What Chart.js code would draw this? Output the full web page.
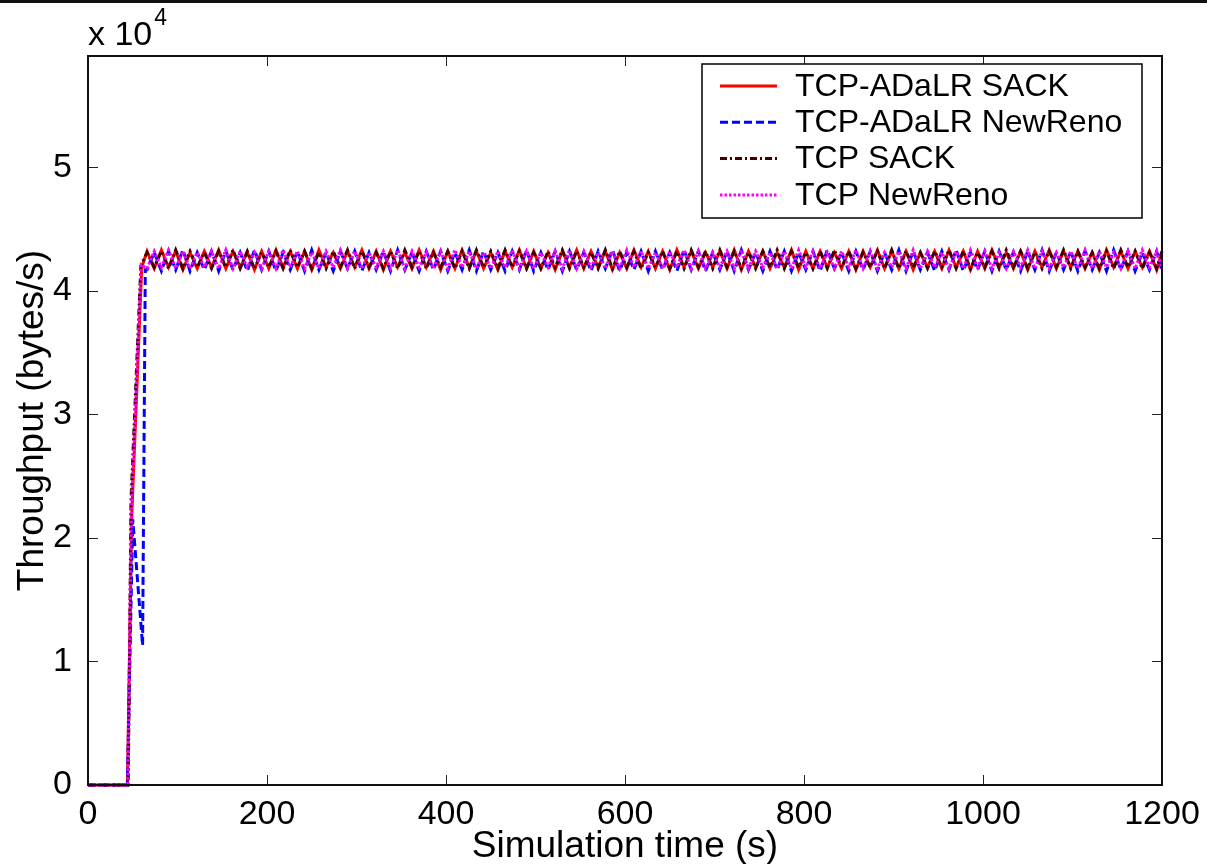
<!DOCTYPE html>
<html>
<head>
<meta charset="utf-8">
<title>Throughput vs simulation time</title>
<script src="https://cdn.jsdelivr.net/npm/chart.js@4.4.0/dist/chart.umd.min.js"></script>
<style>
  html, body { margin: 0; padding: 0; background: #fff; }
  #wrap { position: relative; width: 1207px; height: 864px; overflow: hidden; }
  #topRule { position: absolute; left: 0; top: 0; width: 1207px; height: 3px; background: #111; }
  #chart { position: absolute; left: 0; top: 0; }
</style>
</head>
<body>
<div id="wrap">
  <canvas id="chart" width="1207" height="864"></canvas>
  <div id="topRule"></div>
</div>
<script>
// Series names and axis ticks (throughput values are in units of 10^4 bytes/s)
const seriesNames = ['TCP-ADaLR SACK', 'TCP-ADaLR NewReno', 'TCP SACK', 'TCP NewReno'];
const xTickValues = [0, 200, 400, 600, 800, 1000, 1200];
const yTickValues = [0, 1, 2, 3, 4, 5];

// Start-up part of each curve (time in s, throughput x 10^4)
const redStartTime = [0, 44, 49, 60];
const redStartRate = [0, 0, 2.2, 4.19];
const blueStartTime = [0, 44, 50, 61, 64];
const blueStartRate = [0, 0, 2.15, 1.13, 4.17];
const brownStartTime = [0, 45, 48, 59];
const brownStartRate = [0, 0, 2.3, 4.2];
const magentaStartTime = [0, 44.5, 48.5, 59.5];
const magentaStartRate = [0, 0, 2.25, 4.21];

// Steady-state sampling times (shared by all four curves)
const steadyTime = [
  66,74,82,90,98,106,114,122,130,138,
  146,154,162,170,178,186,194,202,210,218,
  226,234,242,250,258,266,274,282,290,298,
  306,314,322,330,338,346,354,362,370,378,
  386,394,402,410,418,426,434,442,450,458,
  466,474,482,490,498,506,514,522,530,538,
  546,554,562,570,578,586,594,602,610,618,
  626,634,642,650,658,666,674,682,690,698,
  706,714,722,730,738,746,754,762,770,778,
  786,794,802,810,818,826,834,842,850,858,
  866,874,882,890,898,906,914,922,930,938,
  946,954,962,970,978,986,994,1002,1010,1018,
  1026,1034,1042,1050,1058,1066,1074,1082,1090,1098,
  1106,1114,1122,1130,1138,1146,1154,1162,1170,1178,
  1186,1194,1200
];

const redSteadyRate = [
  4.32,4.18,4.33,4.19,4.32,4.17,4.31,4.18,4.32,4.19,
  4.33,4.18,4.32,4.19,4.31,4.17,4.32,4.18,4.33,4.19,
  4.32,4.18,4.32,4.17,4.33,4.19,4.31,4.18,4.32,4.19,
  4.33,4.18,4.32,4.17,4.32,4.19,4.31,4.18,4.33,4.19,
  4.32,4.17,4.32,4.18,4.33,4.19,4.32,4.18,4.31,4.17,
  4.32,4.19,4.33,4.18,4.32,4.18,4.31,4.17,4.32,4.19,
  4.33,4.18,4.32,4.19,4.32,4.17,4.31,4.18,4.33,4.19,
  4.32,4.18,4.32,4.17,4.33,4.19,4.32,4.18,4.31,4.19,
  4.32,4.18,4.33,4.17,4.32,4.19,4.32,4.18,4.31,4.19,
  4.33,4.17,4.32,4.18,4.32,4.19,4.31,4.18,4.32,4.17,
  4.32,4.19,4.33,4.18,4.32,4.18,4.32,4.17,4.31,4.19,
  4.32,4.18,4.33,4.19,4.32,4.17,4.32,4.18,4.33,4.19,
  4.31,4.18,4.32,4.17,4.32,4.19,4.33,4.18,4.32,4.19,
  4.32,4.18,4.31,4.17,4.33,4.19,4.32,4.18,4.32,4.19,
  4.32,4.17,4.32
];

const blueSteadyRate = [
  4.17,4.31,4.16,4.32,4.17,4.33,4.16,4.31,4.17,4.32,
  4.16,4.32,4.17,4.31,4.16,4.33,4.17,4.32,4.16,4.31,
  4.17,4.32,4.16,4.33,4.17,4.31,4.16,4.32,4.18,4.32,
  4.16,4.31,4.17,4.32,4.16,4.33,4.17,4.31,4.16,4.32,
  4.17,4.32,4.16,4.31,4.17,4.33,4.16,4.32,4.17,4.31,
  4.16,4.32,4.17,4.33,4.16,4.31,4.17,4.32,4.16,4.32,
  4.17,4.31,4.16,4.32,4.18,4.33,4.16,4.31,4.17,4.32,
  4.16,4.32,4.17,4.31,4.16,4.33,4.17,4.32,4.16,4.31,
  4.17,4.32,4.16,4.33,4.17,4.31,4.16,4.32,4.17,4.32,
  4.16,4.31,4.17,4.32,4.16,4.33,4.18,4.31,4.16,4.32,
  4.17,4.32,4.16,4.31,4.17,4.33,4.16,4.32,4.17,4.31,
  4.16,4.32,4.17,4.33,4.16,4.31,4.17,4.32,4.16,4.32,
  4.17,4.31,4.16,4.32,4.17,4.33,4.16,4.31,4.17,4.32,
  4.16,4.32,4.17,4.31,4.16,4.33,4.17,4.32,4.16,4.31,
  4.17,4.32,4.16
];

const brownSteadyRate = [
  4.31,4.19,4.32,4.18,4.33,4.18,4.32,4.19,4.31,4.18,
  4.32,4.19,4.33,4.18,4.32,4.18,4.31,4.19,4.32,4.18,
  4.33,4.19,4.32,4.18,4.31,4.18,4.32,4.19,4.33,4.18,
  4.32,4.19,4.31,4.18,4.32,4.18,4.33,4.19,4.32,4.18,
  4.31,4.19,4.32,4.18,4.32,4.18,4.33,4.19,4.32,4.18,
  4.33,4.19,4.32,4.18,4.31,4.18,4.32,4.19,4.33,4.18,
  4.32,4.19,4.31,4.18,4.33,4.18,4.32,4.19,4.32,4.18,
  4.31,4.19,4.32,4.18,4.32,4.18,4.33,4.19,4.32,4.18,
  4.33,4.19,4.32,4.18,4.31,4.18,4.32,4.19,4.33,4.18,
  4.32,4.19,4.31,4.18,4.32,4.18,4.33,4.19,4.32,4.18,
  4.31,4.19,4.32,4.18,4.33,4.18,4.32,4.19,4.31,4.18,
  4.32,4.19,4.33,4.18,4.32,4.18,4.31,4.19,4.32,4.18,
  4.33,4.19,4.32,4.18,4.31,4.18,4.32,4.19,4.33,4.18,
  4.32,4.19,4.31,4.18,4.32,4.18,4.33,4.19,4.32,4.18,
  4.31,4.18,4.32
];

const magentaSteadyRate = [
  4.18,4.32,4.19,4.33,4.18,4.32,4.18,4.31,4.19,4.32,
  4.18,4.33,4.18,4.32,4.19,4.31,4.18,4.32,4.18,4.33,
  4.19,4.32,4.18,4.31,4.18,4.32,4.19,4.33,4.18,4.32,
  4.18,4.31,4.19,4.32,4.18,4.33,4.18,4.32,4.19,4.31,
  4.18,4.32,4.18,4.33,4.19,4.32,4.18,4.31,4.18,4.32,
  4.19,4.33,4.18,4.32,4.18,4.31,4.19,4.32,4.18,4.33,
  4.18,4.32,4.19,4.31,4.18,4.32,4.18,4.33,4.19,4.32,
  4.18,4.31,4.18,4.32,4.19,4.33,4.18,4.32,4.18,4.31,
  4.19,4.32,4.18,4.33,4.18,4.32,4.19,4.31,4.18,4.32,
  4.18,4.33,4.19,4.32,4.18,4.31,4.18,4.32,4.19,4.33,
  4.18,4.32,4.18,4.31,4.19,4.32,4.18,4.33,4.18,4.32,
  4.19,4.31,4.18,4.32,4.18,4.33,4.19,4.32,4.18,4.31,
  4.18,4.32,4.19,4.33,4.18,4.32,4.18,4.31,4.19,4.32,
  4.18,4.33,4.18,4.32,4.19,4.31,4.18,4.32,4.18,4.33,
  4.19,4.32,4.18
];

// zip time/value arrays into {x, y} points
function toPoints(times, rates) {
  return times.map((t, i) => ({ x: t, y: rates[i] }));
}

const fontFamily = '"Liberation Sans", Arial, Helvetica, sans-serif';

const datasets = [
  {
    label: seriesNames[0],
    data: toPoints(redStartTime.concat(steadyTime), redStartRate.concat(redSteadyRate)),
    borderColor: '#ff0000', borderWidth: 3, borderDash: [], order: 4
  },
  {
    label: seriesNames[1],
    data: toPoints(blueStartTime.concat(steadyTime), blueStartRate.concat(blueSteadyRate)),
    borderColor: '#0000ff', borderWidth: 3, borderDash: [8, 4], order: 3
  },
  {
    label: seriesNames[2],
    data: toPoints(brownStartTime.concat(steadyTime), brownStartRate.concat(brownSteadyRate)),
    borderColor: '#400000', borderWidth: 3, borderDash: [7, 3, 2, 3], order: 2
  },
  {
    label: seriesNames[3],
    data: toPoints(magentaStartTime.concat(steadyTime), magentaStartRate.concat(magentaSteadyRate)),
    borderColor: '#ff00ff', borderWidth: 3, borderDash: [2.5, 2], order: 1
  }
];
datasets.forEach(d => {
  d.pointRadius = 0;
  d.fill = false;
  d.tension = 0;
  d.clip = false;
});

// Matlab-like box with inward ticks, in-axes legend, and the "x 10^4" multiplier
const matlabAxes = {
  id: 'matlabAxes',
  afterDatasetsDraw(chart) {
    const { ctx, chartArea: a } = chart;
    const xs = chart.scales.x, ys = chart.scales.y;
    const tickLen = 10;
    ctx.save();
    ctx.strokeStyle = '#222';
    ctx.lineWidth = 1;
    ctx.beginPath();
    xs.ticks.forEach(t => {
      const px = Math.round(xs.getPixelForValue(t.value)) + 0.5;
      ctx.moveTo(px, a.bottom); ctx.lineTo(px, a.bottom - tickLen);
      ctx.moveTo(px, a.top); ctx.lineTo(px, a.top + tickLen);
    });
    ys.ticks.forEach(t => {
      const py = Math.round(ys.getPixelForValue(t.value)) + 0.5;
      ctx.moveTo(a.left, py); ctx.lineTo(a.left + tickLen, py);
      ctx.moveTo(a.right, py); ctx.lineTo(a.right - tickLen, py);
    });
    ctx.stroke();
    ctx.strokeStyle = '#111';
    ctx.lineWidth = 2;
    ctx.strokeRect(a.left, a.top, a.right - a.left, a.bottom - a.top);
    ctx.restore();
  },
  afterDraw(chart) {
    const { ctx, chartArea: a } = chart;
    ctx.save();
    // legend box
    const w = 440, h = 154;
    const lx = a.right - 20 - w, ly = a.top + 8;
    ctx.fillStyle = '#fff';
    ctx.fillRect(lx, ly, w, h);
    ctx.strokeStyle = '#000';
    ctx.lineWidth = 1.5;
    ctx.strokeRect(lx, ly, w, h);
    ctx.font = '32px ' + fontFamily;
    ctx.textBaseline = 'middle';
    ctx.textAlign = 'left';
    chart.data.datasets.forEach((ds, i) => {
      const cy = ly + 22 + i * 36.3;
      ctx.strokeStyle = ds.borderColor;
      ctx.lineWidth = ds.borderWidth;
      ctx.setLineDash(ds.borderDash);
      ctx.beginPath();
      ctx.moveTo(lx + 18, cy);
      ctx.lineTo(lx + 75, cy);
      ctx.stroke();
      ctx.setLineDash([]);
      ctx.fillStyle = '#000';
      ctx.fillText(ds.label, lx + 93, cy + 1);
    });
    // exponent label
    ctx.fillStyle = '#000';
    ctx.textBaseline = 'alphabetic';
    ctx.font = '34px ' + fontFamily;
    const base = 'x 10';
    ctx.fillText(base, a.left, a.top - 11);
    const bw = ctx.measureText(base).width;
    ctx.font = '23px ' + fontFamily;
    ctx.fillText('4', a.left + bw + 2, a.top - 31);
    ctx.restore();
  }
};

new Chart(document.getElementById('chart'), {
  type: 'line',
  data: { datasets: datasets },
  options: {
    responsive: false,
    animation: false,
    layout: { padding: { left: 0, right: 45, top: 56, bottom: 0 } },
    plugins: {
      legend: { display: false },
      tooltip: { enabled: false }
    },
    scales: {
      x: {
        type: 'linear',
        min: 0,
        max: 1200,
        afterBuildTicks: scale => { scale.ticks = xTickValues.map(v => ({ value: v })); },
        afterFit: scale => { scale.height = 79; },
        grid: { display: false },
        border: { display: false },
        ticks: {
          color: '#000', font: { family: fontFamily, size: 34 }, padding: 1, maxRotation: 0,
          callback: v => String(v)
        },
        title: {
          display: true, text: 'Simulation time (s)', color: '#000',
          font: { family: fontFamily, size: 37 }, padding: { top: 0, bottom: -5 }
        }
      },
      y: {
        type: 'linear',
        min: 0,
        max: 5.9,
        afterBuildTicks: scale => { scale.ticks = yTickValues.map(v => ({ value: v })); },
        afterFit: scale => { scale.width = 88; },
        grid: { display: false },
        border: { display: false },
        ticks: { color: '#000', font: { family: fontFamily, size: 34 }, padding: 8 },
        title: { display: true, text: 'Throughput (bytes/s)', color: '#000', font: { family: fontFamily, size: 37 }, padding: 11 }
      }
    }
  },
  plugins: [matlabAxes]
});
</script>
</body>
</html>
